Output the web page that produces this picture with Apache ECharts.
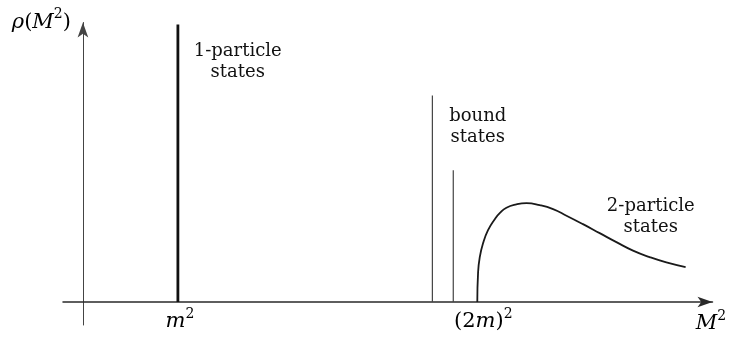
<!DOCTYPE html>
<html>
<head>
<meta charset="utf-8">
<script src="https://cdn.jsdelivr.net/npm/echarts@6/dist/echarts.min.js"></script>
<style>
  html, body { margin: 0; padding: 0; background: #ffffff; }
  #chart { width: 729px; height: 338px; }
</style>
</head>
<body>
<div id="chart"></div>
<script>
// ---- data (x in units of m², y in arbitrary spectral-density units) ----
const poleX = [1.0];                 // 1-particle state at M² = m²
const poleH = [2.78];
const boundX = [3.68, 3.90];         // bound states below threshold
const boundH = [2.07, 1.32];
const contX = [4.153, 4.161, 4.179, 4.214, 4.266, 4.337, 4.389, 4.460, 4.565, 4.671, 4.811, 4.951, 5.092, 5.266, 5.442, 5.618, 5.793, 5.968, 6.144, 6.347];
const contY = [0.00, 0.29, 0.45, 0.59, 0.72, 0.83, 0.89, 0.945, 0.978, 0.99, 0.97, 0.93, 0.865, 0.78, 0.69, 0.60, 0.515, 0.45, 0.397, 0.35];
const tickValues = [1.0, 4.153];
const tickLabels = ['{i|m}{s|2}', '(2{i|m}){s|2}'];
const xName = '{i|M}{s|2}';
const yName = '{i|ρ}({i|M}{s|2})';
const stateLabels = ['1-particle\nstates', 'bound\nstates', '2-particle\nstates'];
const stateLabelAt = [[1.63, 2.405], [4.158, 1.76], [5.98, 0.853]];

const FONT = 'DejaVu Serif';
const TXT = '#000000';
const MATH = 21;
const mathRich = {
  i: { fontFamily: FONT, fontStyle: 'italic', fontSize: MATH, lineHeight: 30, color: TXT },
  s: { fontFamily: FONT, fontSize: 14, lineHeight: 14, verticalAlign: 'top', color: TXT },
  p4: { width: 4, lineHeight: 30 },
  p12: { width: 12, lineHeight: 30 }
};
const tickPad = ['{p4|}', '{p12|}'];

const chart = echarts.init(document.getElementById('chart'), null, { renderer: 'canvas' });

const series = [];
poleX.forEach((x, k) => series.push({
  type: 'line', data: [[x, 0], [x, poleH[k]]], showSymbol: false, silent: true,
  lineStyle: { color: '#111', width: 2.8 }
}));
boundX.forEach((x, k) => series.push({
  type: 'line', data: [[x, 0], [x, boundH[k]]], showSymbol: false, silent: true,
  lineStyle: { color: '#444', width: 1.2 }
}));
series.push({
  type: 'line', data: contX.map((x, k) => [x, contY[k]]), showSymbol: false, silent: true,
  smooth: 0.5,
  lineStyle: { color: '#1a1a1a', width: 1.8 }
});
series.push({
  type: 'scatter', symbolSize: 0, silent: true,
  itemStyle: { opacity: 1, color: '#000' },
  data: stateLabels.map((t, k) => ({ value: stateLabelAt[k], name: t })),
  label: {
    show: true, position: 'inside', formatter: p => p.name, opacity: 1,
    textBorderWidth: 0, textBorderColor: 'transparent',
    fontFamily: FONT, fontSize: 18, color: '#111', lineHeight: 21, align: 'center', verticalAlign: 'middle'
  }
});

chart.setOption({
  animation: false,
  backgroundColor: '#ffffff',
  grid: { left: 63, right: 16.5, top: 22.5, bottom: 13, containLabel: false, outerBoundsMode: 'none' },
  xAxis: {
    type: 'value', min: -0.21, max: 6.63,
    name: xName, nameLocation: 'end', nameGap: -1.5,
    nameTextStyle: { fontFamily: FONT, fontSize: MATH, lineHeight: 30, color: TXT, align: 'center', verticalAlign: 'top', padding: [7, 0, 0, 0], rich: mathRich },
    axisLine: { show: true, onZero: true, symbol: ['none', 'arrow'], symbolSize: [8, 15], lineStyle: { color: '#2a2a2a', width: 1.5 } },
    axisTick: { show: false },
    splitLine: { show: false },
    axisLabel: {
      show: true, customValues: tickValues, margin: -18,
      formatter: (v) => { const k = tickValues.indexOf(v); return k < 0 ? '' : tickPad[k] + tickLabels[k]; },
      fontFamily: FONT, fontSize: MATH, lineHeight: 30, color: TXT, rich: mathRich
    }
  },
  yAxis: {
    type: 'value', min: -0.23, max: 2.80,
    name: yName, nameLocation: 'end', nameGap: 0,
    nameTextStyle: { fontFamily: FONT, fontSize: MATH, lineHeight: 30, color: TXT, align: 'right', verticalAlign: 'middle', padding: [0, 12, 0, 0], rich: mathRich },
    axisLine: { show: true, onZero: true, symbol: ['none', 'arrow'], symbolSize: [8, 15], lineStyle: { color: '#444', width: 1 } },
    axisTick: { show: false },
    splitLine: { show: false },
    axisLabel: { show: false }
  },
  series: series
});
</script>
</body>
</html>
